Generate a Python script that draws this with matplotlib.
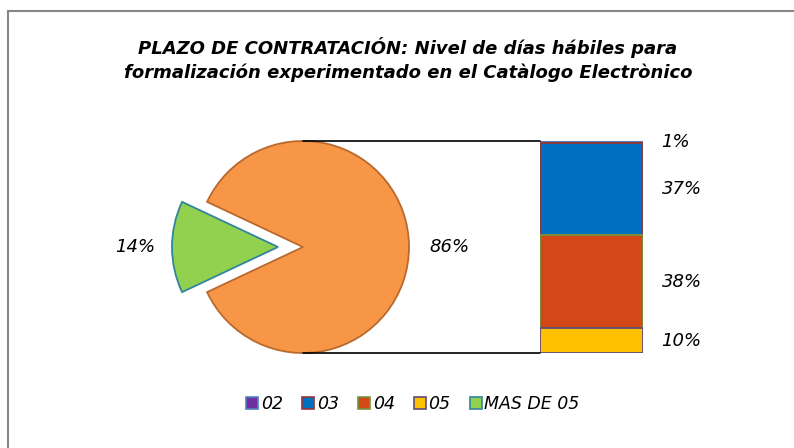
import matplotlib
matplotlib.use("Agg")
import matplotlib.pyplot as plt
from matplotlib.patches import Rectangle, ConnectionPatch

plt.rcParams['font.family'] = ['DejaVu Sans']

# datos
pie_values = [86, 14]
pie_labels = ['86%', '14%']
bar_cats = ['02', '03', '04', '05']
bar_values = [1, 37, 38, 10]
bar_labels = ['1%', '37%', '38%', '10%']
legend_cats = ['02', '03', '04', '05', 'MAS DE 05']

face = {'02': '#7030A0', '03': '#0070C0', '04': '#D34817', '05': '#FFC000',
        'MAS DE 05': '#92D050', 'otros': '#F79646'}
edge = {'02': '#4F81BD', '03': '#953735', '04': '#77933C', '05': '#604A7B',
        'MAS DE 05': '#31859C', 'otros': '#B9692E'}

W, H = 794, 448
fig = plt.figure(figsize=(W / 100, H / 100), dpi=100)

# marco del grafico (se corta por la derecha y por abajo)
fig.patches.append(Rectangle((8 / W, -0.1), 1.1, 1.1 - 11 / H, transform=fig.transFigure,
                             fill=False, edgecolor='#868686', linewidth=1.5))

fig.text(408 / W, 1 - 47 / H, 'PLAZO DE CONTRATACIÓN: Nivel de días hábiles para',
         ha='center', va='center', fontsize=13, fontweight='bold', style='italic')
fig.text(408 / W, 1 - 73 / H, 'formalización experimentado en el Catàlogo Electrònico',
         ha='center', va='center', fontsize=13, fontweight='bold', style='italic')

# pastel
r_px = 106
cx, cy = 303, 247
ax_pie = fig.add_axes([(cx - 150) / W, 1 - (cy + 150) / H, 300 / W, 300 / H])
r = r_px / 150
wedges, _ = ax_pie.pie(pie_values, startangle=180 + 14 * 1.8, counterclock=True,
                       explode=[0, 25 / 150], radius=r,
                       colors=[face['otros'], face['MAS DE 05']],
                       wedgeprops=dict(linewidth=1.3))
wedges[0].set_edgecolor(edge['otros'])
wedges[1].set_edgecolor(edge['MAS DE 05'])
ax_pie.set_xlim(-1, 1)
ax_pie.set_ylim(-1, 1)
ax_pie.set_aspect('equal')
ax_pie.axis('off')
fig.text(449 / W, 1 - 247 / H, pie_labels[0], ha='center', va='center',
         fontsize=13, style='italic')
fig.text(135 / W, 1 - 247 / H, pie_labels[1], ha='center', va='center',
         fontsize=13, style='italic')

# barra
top, bot = 141, 353
ax_bar = fig.add_axes([540 / W, 1 - bot / H, 103 / W, (bot - top) / H])
bottom = sum(bar_values)
for cat, v, lab in zip(bar_cats, bar_values, bar_labels):
    bottom -= v
    ax_bar.bar(0, v, bottom=bottom, width=1, color=face[cat], edgecolor=edge[cat],
               linewidth=1.3)
    ax_bar.text(0.68, bottom + v / 2, lab, ha='left', va='center', fontsize=13,
                style='italic', clip_on=False)
ax_bar.set_xlim(-0.5, 0.5)
ax_bar.set_ylim(0, sum(bar_values))
ax_bar.axis('off')

# lineas de union
for yb, yp in [(sum(bar_values), r), (0, -r)]:
    con = ConnectionPatch(xyA=(0, yp), coordsA=ax_pie.transData,
                          xyB=(-0.5, yb), coordsB=ax_bar.transData,
                          color='black', linewidth=1.2)
    fig.add_artist(con)

# leyenda
handles = [Rectangle((0, 0), 1, 1, facecolor=face[c], edgecolor=edge[c], linewidth=1.2)
           for c in legend_cats]
leg = fig.legend(handles, legend_cats, loc='center', bbox_to_anchor=(413 / W, 1 - 404 / H),
                 ncol=5, frameon=False, handlelength=0.7, handleheight=0.7,
                 handletextpad=0.15, columnspacing=1.1,
                 prop=dict(size=12.5, style='italic'))

fig.savefig('out.png', dpi=100, facecolor='white')
